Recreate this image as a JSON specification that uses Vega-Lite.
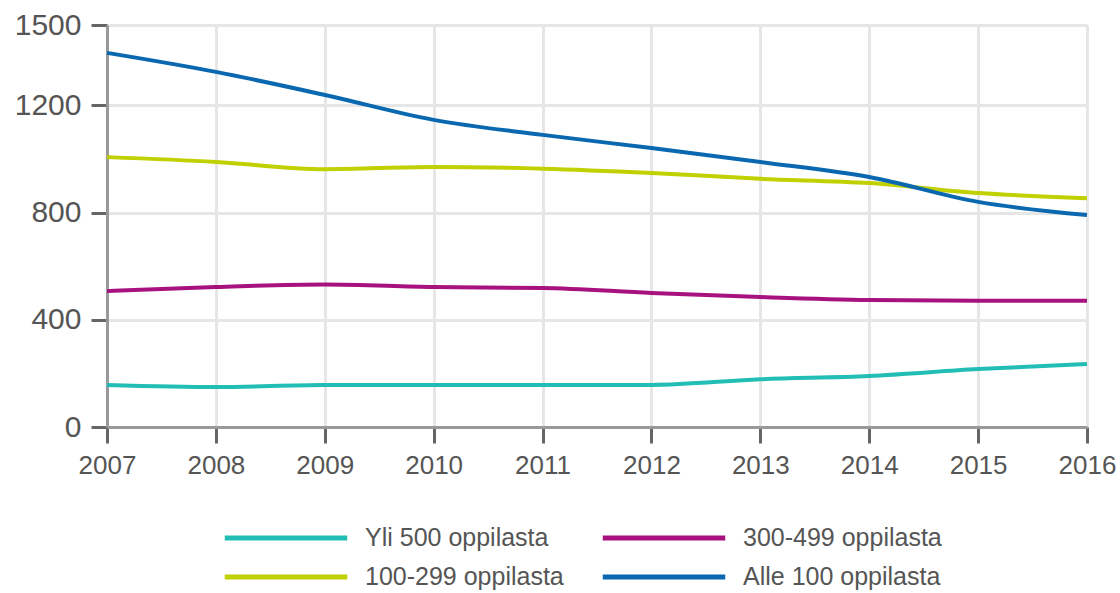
{
  "$schema": "https://vega.github.io/schema/vega-lite/v6.json",
  "autosize": {"type": "none"},
  "width": 980,
  "height": 402,
  "padding": {"left": 107, "top": 25, "right": 33, "bottom": 166},
  "background": "white",
  "config": {
    "font": "Liberation Sans",
    "view": {"stroke": null},
    "axis": {
      "domainColor": "#999999",
      "domainWidth": 3,
      "tickColor": "#666666",
      "tickWidth": 3,
      "tickSize": 16,
      "gridColor": "#e6e6e6",
      "gridWidth": 3,
      "labelColor": "#555555",
      "labelFont": "Liberation Sans",
      "title": null
    }
  },
  "data": {
    "values": [
      {"vuosi": 2007, "ryhma": "Yli 500 oppilasta", "arvo": 157},
      {"vuosi": 2008, "ryhma": "Yli 500 oppilasta", "arvo": 149},
      {"vuosi": 2009, "ryhma": "Yli 500 oppilasta", "arvo": 157},
      {"vuosi": 2010, "ryhma": "Yli 500 oppilasta", "arvo": 157},
      {"vuosi": 2011, "ryhma": "Yli 500 oppilasta", "arvo": 157},
      {"vuosi": 2012, "ryhma": "Yli 500 oppilasta", "arvo": 157},
      {"vuosi": 2013, "ryhma": "Yli 500 oppilasta", "arvo": 178},
      {"vuosi": 2014, "ryhma": "Yli 500 oppilasta", "arvo": 190},
      {"vuosi": 2015, "ryhma": "Yli 500 oppilasta", "arvo": 216},
      {"vuosi": 2016, "ryhma": "Yli 500 oppilasta", "arvo": 235},
      {"vuosi": 2007, "ryhma": "300-499 oppilasta", "arvo": 507},
      {"vuosi": 2008, "ryhma": "300-499 oppilasta", "arvo": 522},
      {"vuosi": 2009, "ryhma": "300-499 oppilasta", "arvo": 532},
      {"vuosi": 2010, "ryhma": "300-499 oppilasta", "arvo": 522},
      {"vuosi": 2011, "ryhma": "300-499 oppilasta", "arvo": 519},
      {"vuosi": 2012, "ryhma": "300-499 oppilasta", "arvo": 500},
      {"vuosi": 2013, "ryhma": "300-499 oppilasta", "arvo": 485},
      {"vuosi": 2014, "ryhma": "300-499 oppilasta", "arvo": 474},
      {"vuosi": 2015, "ryhma": "300-499 oppilasta", "arvo": 471},
      {"vuosi": 2016, "ryhma": "300-499 oppilasta", "arvo": 471},
      {"vuosi": 2007, "ryhma": "100-299 oppilasta", "arvo": 1007},
      {"vuosi": 2008, "ryhma": "100-299 oppilasta", "arvo": 989},
      {"vuosi": 2009, "ryhma": "100-299 oppilasta", "arvo": 962},
      {"vuosi": 2010, "ryhma": "100-299 oppilasta", "arvo": 970},
      {"vuosi": 2011, "ryhma": "100-299 oppilasta", "arvo": 964},
      {"vuosi": 2012, "ryhma": "100-299 oppilasta", "arvo": 948},
      {"vuosi": 2013, "ryhma": "100-299 oppilasta", "arvo": 926},
      {"vuosi": 2014, "ryhma": "100-299 oppilasta", "arvo": 910},
      {"vuosi": 2015, "ryhma": "100-299 oppilasta", "arvo": 873},
      {"vuosi": 2016, "ryhma": "100-299 oppilasta", "arvo": 854},
      {"vuosi": 2007, "ryhma": "Alle 100 oppilasta", "arvo": 1396},
      {"vuosi": 2008, "ryhma": "Alle 100 oppilasta", "arvo": 1325},
      {"vuosi": 2009, "ryhma": "Alle 100 oppilasta", "arvo": 1239},
      {"vuosi": 2010, "ryhma": "Alle 100 oppilasta", "arvo": 1146},
      {"vuosi": 2011, "ryhma": "Alle 100 oppilasta", "arvo": 1090},
      {"vuosi": 2012, "ryhma": "Alle 100 oppilasta", "arvo": 1041},
      {"vuosi": 2013, "ryhma": "Alle 100 oppilasta", "arvo": 989},
      {"vuosi": 2014, "ryhma": "Alle 100 oppilasta", "arvo": 933},
      {"vuosi": 2015, "ryhma": "Alle 100 oppilasta", "arvo": 840},
      {"vuosi": 2016, "ryhma": "Alle 100 oppilasta", "arvo": 791}
    ]
  },
  "mark": {"type": "line", "strokeWidth": 4, "interpolate": "monotone"},
  "encoding": {
    "x": {
      "field": "vuosi",
      "type": "quantitative",
      "scale": {"domain": [2007, 2016], "nice": false, "zero": false},
      "axis": {
        "values": [2007, 2008, 2009, 2010, 2011, 2012, 2013, 2014, 2015, 2016],
        "format": "d",
        "labelFontSize": 26,
        "labelPadding": 9,
        "labelFlush": false,
        "labelOverlap": false
      }
    },
    "y": {
      "field": "arvo",
      "type": "quantitative",
      "scale": {"domain": [0, 1500], "nice": false},
      "axis": {
        "values": [0, 400, 800, 1200, 1500],
        "format": "d",
        "labelFontSize": 30,
        "labelPadding": 10,
        "labelFlush": false,
        "labelOverlap": false
      }
    },
    "color": {
      "field": "ryhma",
      "type": "nominal",
      "sort": ["Yli 500 oppilasta", "300-499 oppilasta", "100-299 oppilasta", "Alle 100 oppilasta"],
      "scale": {
        "domain": ["Yli 500 oppilasta", "300-499 oppilasta", "100-299 oppilasta", "Alle 100 oppilasta"],
        "range": ["#22bdb5", "#a8127f", "#c0d000", "#0a68b0"]
      },
      "legend": {
        "title": null,
        "orient": "none",
        "legendX": 115,
        "legendY": 494,
        "columns": 2,
        "direction": "horizontal",
        "symbolType": "stroke",
        "symbolSize": 15000,
        "symbolStrokeWidth": 5,
        "clipHeight": 38,
        "labelFontSize": 25,
        "labelLimit": 400,
        "labelColor": "#555555",
        "labelOffset": 15,
        "columnPadding": 36,
        "rowPadding": 1
      }
    }
  }
}
